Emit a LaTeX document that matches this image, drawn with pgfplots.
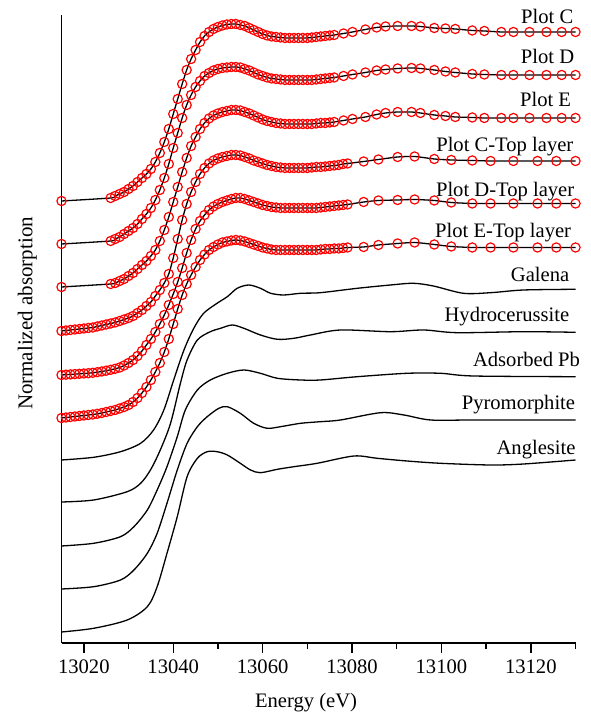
\documentclass[border=0pt]{standalone}
\usepackage{fontspec}
\setmainfont{Liberation Serif}
\usepackage{pgfplots}
\usepackage{pgfplotstable}
\pgfplotsset{compat=1.18}
\newcommand{\lbl}{\fontsize{10.3}{12}\selectfont}

% Samples (Plot C, D, E): energy, rise above own baseline
\pgfplotstableread{
en c d e
13015 0 0 0
13026 3 3 3
13027 5 5 4
13028 7 7 6
13029 9 10 8
13030 12 13 11
13031 15 16 14
13032 19 20 18
13033 23 25 22
13034 27 30 26
13035 32 36 31
13036 39 44 37
13037 48 54 46
13038 59 66 57
13039 72 80 70
13040 87 96 85
13041 102 111 100
13042 117 126 115
13043 131 139 129
13044 142 149 141
13045 151 157 150
13046 159 163 158
13047 165 168 164
13048 169 171 168.5
13049 172 173.5 171.5
13050 174 175 173.5
13051 175.5 176 175
13052 176.5 176.5 176
13053 177 177 177
13054 177 177 177
13055 176 176.5 176.5
13056 175 175 175
13057 173 173.5 173.5
13058 171 171.5 171.5
13059 169 169.5 169.5
13060 167 168 167.5
13061 165.5 166.5 166
13062 164.5 165.5 165
13063 164 165 164
13064 163.5 164.5 163.5
13065 163 164 163
13066 163 164 163
13067 163 164 163
13068 163 164 163
13069 163 164 163
13070 163 164 163
13071 163.5 164 163
13072 164 164.5 163.5
13073 164.5 165 164
13074 165 165.5 164
13075 165.5 166 164.5
13076 166 166.5 165
13078.1 167.5 168 166.5
13080.1 169 169.5 168
13083 171.5 171.5 170
13085.5 173.5 173.5 172.5
13087.5 174.5 174.5 174
13090.2 175 175.5 175
13093.3 175 176 175
13095.3 174.5 175.5 174
13098.4 173 174 172
13100.9 172.5 172.5 171
13103.1 172 171.5 170
13106.9 170.5 170 169.5
13109.6 170 169.5 169
13113.4 169 169 169
13116.1 169 169 169
13119.7 169 169 169
13123.5 169 169 169
13126.9 169 169 169
13130 169 169 169
}\samples

% Top layers (Plot C, D, E - Top layer)
\pgfplotstableread{
en ct dt et
13015 0 0 0
13016 0.5 0.3 0.5
13017 1 0.6 1
13018 1.5 0.9 1.5
13019 2 1.2 2
13020 2.5 1.5 2.5
13021 3 1.8 3
13022 3.5 2.2 3.5
13023 4.5 2.8 4.2
13024 5.5 3.5 5
13025 6.5 4.3 6
13026 7.5 5.2 7
13027 8.5 6.2 8
13028 10 7.5 9.5
13029 11.5 9.5 11
13030 13 12 13
13031 15 15 16
13032 18 19 20
13033 21 24 25
13034 25 30 31
13035 29 36 38
13036 35 43 46
13037 41 51 55
13038 48 60 66
13039 57 70 79
13040 73 81 94
13041 92 93 109
13042 111 107 123
13043 127 122 134
13044 139 135 143
13045 149 146 151
13046 157 154 158
13047 163 160 163.5
13048 167.5 165 168
13049 170.5 168.5 171
13050 172.5 171 173.5
13051 174 173 175.5
13052 175 174.5 176.5
13053 176 176 177.5
13054 176 177 178
13055 175.5 177 177.5
13056 174 176 176.5
13057 172.5 174.5 175
13058 170.5 173 173.5
13059 169 171.5 172
13060 167.5 170 170.5
13061 166 169 169.5
13062 165 168 168.5
13063 164 167.5 168
13064 163.5 167 168
13065 163 167 168
13066 163 167 168
13067 163 167 168
13068 163 167 168
13069 163 167 168
13070 163 167 168
13071 163.5 167 168
13072 164 167 168
13073 164 167.5 168.5
13074 164.5 168 169
13075 165 168.5 169
13076 165.5 169 169.5
13077 166 169.5 169.5
13078 167 170 170
13079 167.5 170.5 170.5
13082.6 169.5 173 171
13085.9 171.5 174.5 173
13090.2 174 175 174.5
13094 174.5 175.5 175.5
13098.4 172 174.5 173.5
13102.2 171 172.5 171.5
13106.9 170.5 171.5 170.5
13111 170 171.5 170.5
13116.1 170 171.5 170.5
13121.5 170 171.5 170.5
13125.7 170 171.5 170.5
13130 170 171.5 170.5
}\toplayers

\pgfplotstableread{
en r
13015 0
13022.2 2.7
13028.2 8.3
13032.7 16.7
13035.6 30
13037.9 50
13040.1 80
13042.4 110
13044.6 131.7
13046.8 146.7
13049.8 156.7
13052.1 163.3
13054.3 171.7
13056.9 175
13059.5 171.7
13061.8 166.7
13064.7 165
13068.5 166.7
13072.9 167.3
13081.2 171.7
13088.6 175
13093.7 176.7
13098.2 174
13104.9 166.7
13111 167.3
13118.4 170
13130 170.7
}\galena

\pgfplotstableread{
en r
13015 0
13022.2 2
13029.7 10.3
13032.7 18.7
13034.9 32
13037.1 52
13039.4 78.7
13041.6 118.7
13043.1 142
13045.4 162
13048.3 170.3
13050.6 173.7
13053.2 177
13055.8 173.7
13059.5 167
13063.3 162.7
13067 163.7
13070.7 167
13077.4 172
13088.6 170.3
13096 172
13103.5 169.3
13118.4 170.3
13130 169.7
}\hydro

\pgfplotstableread{
en r
13015 0
13022.2 2.7
13028.2 9.3
13031.2 19.3
13034.2 36
13036.4 56
13038.6 79.3
13040.9 109.3
13042.7 136
13045.4 156
13048.3 166
13052.1 172.7
13055.8 176
13059.5 172.7
13063.3 167.7
13068.5 166
13072.9 166
13081.2 169.3
13092.3 172.7
13099.8 172.7
13107.2 170
13130 169.3
}\adsorbed

\pgfplotstableread{
en r
13015 0
13022.2 2.3
13028.2 9
13031.2 19
13034.2 35.7
13036.4 55.7
13038.6 85.7
13040.9 119
13043.1 145.7
13045.4 162.3
13047.6 172.3
13050.2 180.7
13052.1 182.3
13055 175.7
13058 165.7
13061 160.7
13064 162.3
13068.5 165.7
13072.9 167.3
13077.4 169
13086.4 176.3
13091.6 174
13097.6 169
13107.2 169
13130 169
}\pyro

\pgfplotstableread{
en r
13015 0
13022.2 3.7
13029.7 12
13034.2 25.3
13036.4 45.3
13038.6 78.7
13040.9 115.3
13043.1 155.3
13045.4 173.7
13047.6 180.3
13049.8 180.3
13052.1 177
13055 168.7
13057.3 162
13059.5 159.3
13063.3 162.7
13067 165.3
13072.2 168.7
13080.4 176
13085.6 173.7
13092.3 171
13099.8 168.7
13111 167
13118.4 168
13130 172
}\anglesite

\begin{document}
\begin{tikzpicture}
\useasboundingbox (-30.75pt,-36pt) rectangle (264.25pt,321.5pt);
\begin{axis}[
  at={(0,0)}, anchor=south west,
  scale only axis, width=257pt, height=314pt,
  xmin=13015, xmax=13130, ymin=0, ymax=628,
  axis x line*=bottom, axis y line*=left,
  axis line style={-, line width=0.7pt},
  xtick={13020,13040,13060,13080,13100,13120},
  xticklabels={13020,13040,13060,13080,13100,13120},
  scaled x ticks=false,
  minor xtick={13030,13050,13070,13090,13110,13130},
  ytick=\empty,
  tick align=outside,
  major tick length=4.8pt, minor tick length=2.8pt,
  tick style={line width=0.7pt, black},
  xticklabel style={font=\lbl},
  xlabel={Energy (eV)}, ylabel={Normalized absorption},
  label style={font=\lbl},
  xlabel style={at={(axis description cs:0.4757,-0.1035)}, anchor=base},
  ylabel style={at={(axis description cs:-0.0569,0.5247)}, anchor=base, font=\fontsize{10.5}{12}\selectfont},
  clip=false,
  every axis plot/.append style={line width=0.65pt},
  samp/.style={black, smooth, tension=0.4, mark=o, mark size=2.3pt,
    mark options={red, line width=0.6pt, solid}},
  ref/.style={black, smooth, tension=0.5, mark=none},
]
\addplot[samp] table[x=en, y expr=\thisrow{c}+442] {\samples};
\addplot[samp] table[x=en, y expr=\thisrow{d}+399] {\samples};
\addplot[samp] table[x=en, y expr=\thisrow{e}+356] {\samples};
\addplot[samp] table[x=en, y expr=\thisrow{ct}+312] {\toplayers};
\addplot[samp] table[x=en, y expr=\thisrow{dt}+268] {\toplayers};
\addplot[samp] table[x=en, y expr=\thisrow{et}+225] {\toplayers};
\addplot[ref] table[x=en, y expr=\thisrow{r}+183] {\galena};
\addplot[ref] table[x=en, y expr=\thisrow{r}+141] {\hydro};
\addplot[ref] table[x=en, y expr=\thisrow{r}+97] {\adsorbed};
\addplot[ref] table[x=en, y expr=\thisrow{r}+54] {\pyro};
\addplot[ref] table[x=en, y expr=\thisrow{r}+11] {\anglesite};

\begin{scope}[every node/.style={anchor=base east, inner sep=0pt, font=\lbl}]
\node at (axis cs:13129.6,619) {Plot C};
\node at (axis cs:13129.8,579.7) {Plot D};
\node at (axis cs:13129.1,536.3) {Plot E};
\node at (axis cs:13129.6,491.3) {Plot C-Top layer};
\node at (axis cs:13129.8,446.3) {Plot D-Top layer};
\node at (axis cs:13129.1,405.7) {Plot E-Top layer};
\node at (axis cs:13128.7,361.3) {Galena};
\node at (axis cs:13128.7,321.3) {Hydrocerussite};
\node at (axis cs:13131.1,276.3) {Adsorbed Pb};
\node at (axis cs:13130.0,233) {Pyromorphite};
\node at (axis cs:13130.1,188) {Anglesite};
\end{scope}
\end{axis}
\end{tikzpicture}
\end{document}
